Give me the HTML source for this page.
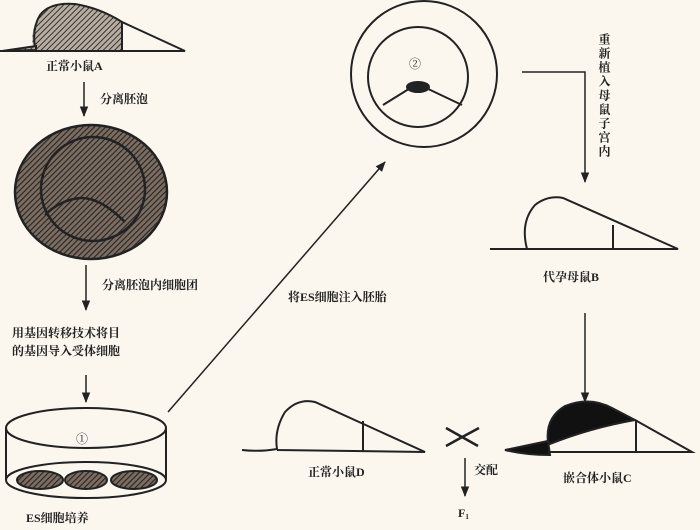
<!DOCTYPE html>
<html><head><meta charset="utf-8"><style>
html,body{margin:0;padding:0;background:#fbf7ee}
svg{display:block}
text{font-family:"Liberation Serif","Noto Serif CJK SC",serif;font-size:12px;fill:#222;font-weight:bold}
</style></head><body>
<svg width="700" height="530" viewBox="0 0 700 530" xmlns="http://www.w3.org/2000/svg">
<defs>
<pattern id="h" width="4" height="4" patternUnits="userSpaceOnUse" patternTransform="rotate(45)">
<rect width="4" height="4" fill="#b8ada0"/><line x1="0" y1="0" x2="0" y2="4" stroke="#333" stroke-width="2"/></pattern>
<pattern id="h2" width="4" height="4" patternUnits="userSpaceOnUse" patternTransform="rotate(45)">
<rect width="4" height="4" fill="#7a6d62"/><line x1="0" y1="0" x2="0" y2="4" stroke="#2a2220" stroke-width="2.2"/></pattern>
<marker id="a" viewBox="0 0 10 10" refX="9" refY="5" markerWidth="7" markerHeight="7" orient="auto"><path d="M0,1 L10,5 L0,9 z" fill="#222"/></marker>
</defs>
<g stroke="#222" stroke-width="2" fill="none">
<path d="M2,51 L33,46 Q30,30 40,15 Q55,2 75,4 Q100,8 122,22 L122,50 L36,50 Z" fill="url(#h)" stroke="none"/>
<path d="M2,51 L36,46 L36,50 Z" fill="url(#h)"/>
<path d="M0,51 L185,51 L122,22 Q100,8 75,4 Q50,2 40,15 Q32,28 35,47"/>
<line x1="122" y1="22" x2="122" y2="51"/>
<line x1="84" y1="82" x2="84" y2="116" marker-end="url(#a)" stroke-width="1.5"/>
<ellipse cx="91" cy="192" rx="76" ry="67" fill="url(#h2)" stroke-width="2.5"/>
<circle cx="93" cy="189" r="52" stroke-width="2.5"/>
<path d="M45,215 Q60,200 80,198 Q100,197 125,222" stroke-width="2.5"/>
<line x1="86" y1="265" x2="86" y2="310" marker-end="url(#a)" stroke-width="1.5"/>
<line x1="86" y1="375" x2="86" y2="402" marker-end="url(#a)" stroke-width="1.5"/>
<ellipse cx="86" cy="428" rx="80" ry="20"/>
<ellipse cx="86" cy="480" rx="80" ry="18"/>
<line x1="6" y1="428" x2="6" y2="480"/><line x1="166" y1="428" x2="166" y2="480"/>
<ellipse cx="40" cy="480" rx="23" ry="9" fill="url(#h2)"/>
<ellipse cx="86" cy="480" rx="21" ry="9" fill="url(#h2)"/>
<ellipse cx="134" cy="480" rx="23" ry="9" fill="url(#h2)"/>
<line x1="168" y1="412" x2="385" y2="162" marker-end="url(#a)" stroke-width="1.5"/>
<circle cx="424" cy="74" r="73"/>
<circle cx="418" cy="77" r="50"/>
<path d="M383,105 L412,87 M424,87 L462,105"/>
<ellipse cx="418" cy="87" rx="11" ry="5" fill="#222"/>
<path d="M522,72 L585,72 L585,182" stroke-width="1.5" marker-end="url(#a)"/>
<path d="M490,249 L527,249 Q520,222 535,205 Q548,195 563,198 L678,249 L527,249"/>
<line x1="613" y1="225" x2="613" y2="249"/>
<line x1="585" y1="313" x2="585" y2="402" stroke-width="1.5" marker-end="url(#a)"/>
<path d="M548,442 Q545,418 565,406 Q590,396 612,408 L635,420 Q590,428 550,444 Z" fill="#111"/>
<path d="M505,450 L548,441 L550,455 Q525,455 505,450 Z" fill="#111"/>
<path d="M548,452 L692,452 L635,420"/>
<line x1="636" y1="420" x2="636" y2="452"/>
<path d="M242,450 Q260,452 277,449 Q274,430 285,412 Q298,398 315,402 L425,452 L277,450"/>
<line x1="363" y1="421" x2="363" y2="451"/>
<path d="M446,428 Q462,437 478,446 M446,446 Q462,437 479,428" stroke-width="2.5"/>
<line x1="465" y1="458" x2="465" y2="496" stroke-width="1.5" marker-end="url(#a)"/>
</g>
<text x="46" y="70">正常小鼠A</text>
<text x="100" y="103">分离胚泡</text>
<text x="102" y="289">分离胚泡内细胞团</text>
<text x="12" y="337">用基因转移技术将目</text>
<text x="12" y="355">的基因导入受体细胞</text>
<text x="76" y="443" style="font-weight:normal">①</text>
<text x="26" y="522">ES细胞培养</text>
<text x="409" y="68" style="font-weight:normal">②</text>
<text x="288" y="301">将ES细胞注入胚胎</text>
<text x="543" y="281">代孕母鼠B</text>
<text x="308" y="476">正常小鼠D</text>
<text x="474" y="474">交配</text>
<text x="458" y="517">F<tspan font-size="7" dy="2">1</tspan></text>
<text x="563" y="482">嵌合体小鼠C</text>
<text x="604" y="33" style="writing-mode:vertical-rl;font-size:12px;letter-spacing:2px">重新植入母鼠子宫内</text>
</svg>
</body></html>
